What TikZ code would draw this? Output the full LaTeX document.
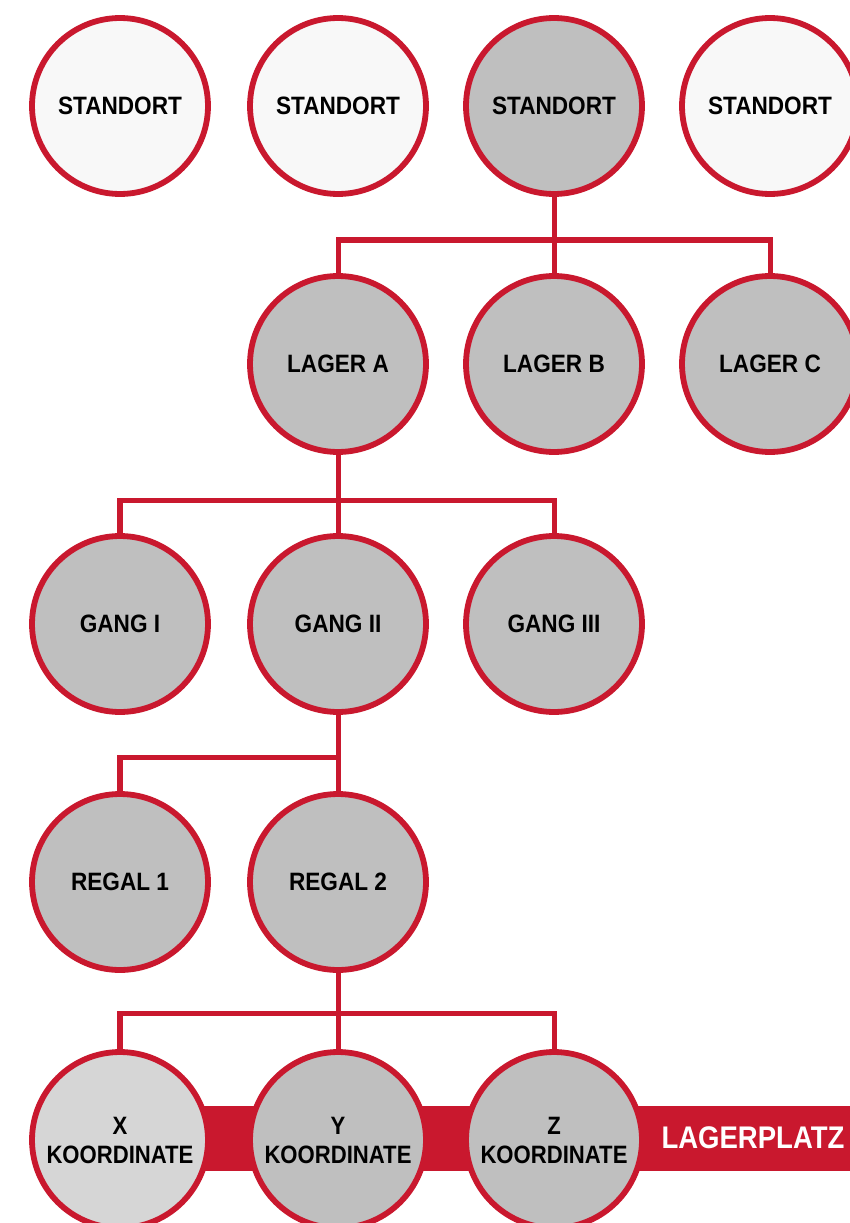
\documentclass[tikz,border=0pt]{standalone}
\usepackage{fontspec}
\setmainfont{Liberation Sans}
\newfontfamily\schmal[FakeStretch=0.9]{Liberation Sans}
\newfontfamily\eng[FakeStretch=0.88]{Liberation Sans}
\definecolor{lagerrot}{RGB}{201,24,46}
\definecolor{lagergrau}{RGB}{191,191,191}
\definecolor{hellgrau}{RGB}{214,214,214}
\definecolor{fastweiss}{RGB}{248,248,248}

\begin{document}
\begin{tikzpicture}[x=0.02cm,y=-0.02cm,
	ort/.style={circle,draw=lagerrot,line width=3.3pt,minimum size=3.52cm,inner sep=0pt,
	align=center,font=\schmal\bfseries\fontsize{14.3}{17}\selectfont},
	frei/.style={ort,fill=fastweiss},
	aktiv/.style={ort,fill=lagergrau},
	koord/.style={font=\eng\bfseries\fontsize{14.3}{16.5}\selectfont},
	verbinder/.style={draw=lagerrot,line width=2.85pt,line join=miter}]
\useasboundingbox (0,0) rectangle (849,1223);
\fill[white] (0,0) rectangle (849,1223);
% Band hinter der untersten Reihe
\fill[lagerrot] (200,1106) rectangle (870,1171);
\node[frei] (st1) at (120,106) {STANDORT};
\node[frei] (st2) at (338,106) {STANDORT};
\node[aktiv] (st3) at (554,106) {STANDORT};
\node[frei] (st4) at (770,106) {STANDORT};
\node[aktiv] (lagA) at (338,364) {LAGER A};
\node[aktiv] (lagB) at (554,364) {LAGER B};
\node[aktiv] (lagC) at (770,364) {LAGER C};
\node[aktiv] (gang1) at (120,624) {GANG I};
\node[aktiv] (gang2) at (338,624) {GANG II};
\node[aktiv] (gang3) at (554,624) {GANG III};
\node[aktiv] (regal1) at (120,882) {REGAL 1};
\node[aktiv] (regal2) at (338,882) {REGAL 2};
\node[ort,fill=hellgrau,koord] (xko) at (120,1140) {X\\KOORDINATE};
\node[aktiv,koord] (yko) at (338,1140) {Y\\KOORDINATE};
\node[aktiv,koord] (zko) at (554,1140) {Z\\KOORDINATE};
\node[text=white,font=\eng\bfseries\fontsize{17.8}{20}\selectfont] (platz) at (753,1138) {LAGERPLATZ};
% Verbindungen
\coordinate (k1) at (554,240);
\coordinate (k2) at (338,500);
\coordinate (k3) at (338,757);
\coordinate (k4) at (338,1013);
\draw[verbinder] (st3.south) -- (k1);
\draw[verbinder] (lagA.north) |- (k1) -| (lagC.north);
\draw[verbinder] (k1) -- (lagB.north);
\draw[verbinder] (lagA.south) -- (k2);
\draw[verbinder] (gang1.north) |- (k2) -| (gang3.north);
\draw[verbinder] (k2) -- (gang2.north);
\draw[verbinder] (gang2.south) -- (k3);
\draw[verbinder] (regal1.north) |- (k3) -- (regal2.north);
\draw[verbinder] (regal2.south) -- (k4);
\draw[verbinder] (xko.north) |- (k4) -| (zko.north);
\draw[verbinder] (k4) -- (yko.north);
\end{tikzpicture}
\end{document}
